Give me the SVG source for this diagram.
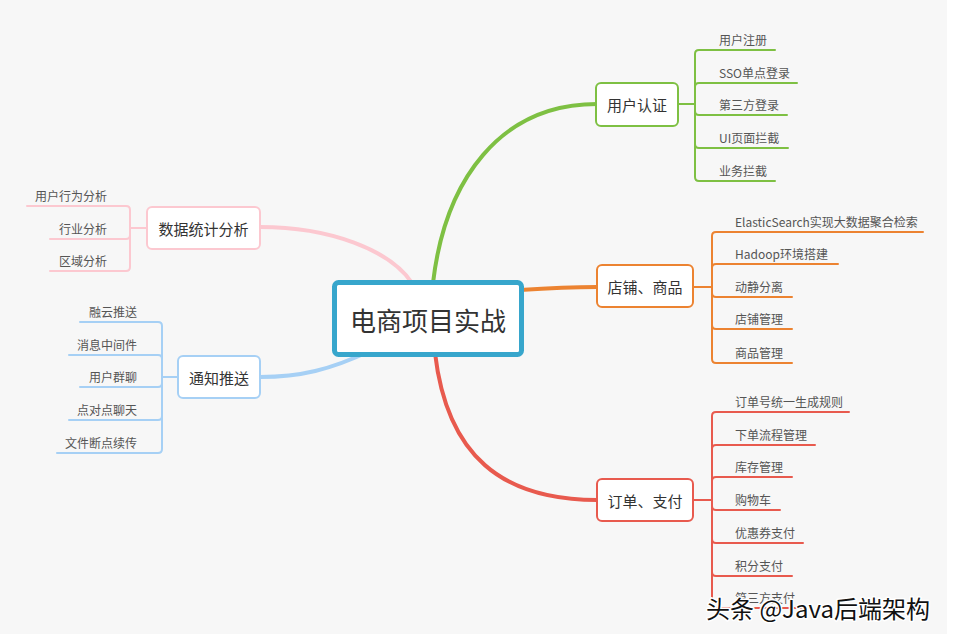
<svg xmlns="http://www.w3.org/2000/svg" width="956" height="640" viewBox="0 0 956 640">
<style>
text{font-family:"Noto Sans CJK SC","Liberation Sans",sans-serif}
.main{fill:none;stroke-width:4;stroke-linecap:round}
.sub{fill:none;stroke-width:2;stroke-linecap:round}
.node{fill:#fff;stroke-width:2}
.nt{font-size:15px;fill:#333;text-anchor:middle;dominant-baseline:central}
.ct{font-size:12px;fill:#555}
.l{text-anchor:end}
.g{stroke:#7ec043}.o{stroke:#ec8331}.r{stroke:#e85a4e}.p{stroke:#fcc8d0}.b{stroke:#a6d0f5}
</style>
<rect x="0" y="0" width="956" height="640" fill="#f7f7f7"/>
<rect x="947" y="0" width="9" height="640" fill="#fff"/>
<rect x="0" y="634" width="956" height="6" fill="#fff"/>
<g id="connectors">
<path class="main g" d="M433,283 C445,180 500,104 597,104"/>
<path class="main o" d="M520,290 C550,288 570,287 597,287"/>
<path class="main r" d="M435,353 C447,456 502,500 597,500"/>
<path class="main p" d="M260,227 C330,227 390,250 412,283"/>
<path class="main b" d="M260,377 C300,377 330,370 372,350"/>
<g class="sub g">
<path d="M678,104 H695"/>
<path d="M695,104 V54 Q695,50 699,50 H775"/>
<path d="M695,104 V87 Q695,83 699,83 H797"/>
<path d="M695,104 V111 Q695,115 699,115 H787"/>
<path d="M695,104 V144 Q695,148 699,148 H788"/>
<path d="M695,104 V177 Q695,181 699,181 H775"/>
</g>
<g class="sub o">
<path d="M693,287 H712"/>
<path d="M712,287 V236 Q712,232 716,232 H923"/>
<path d="M712,287 V268 Q712,264 716,264 H838"/>
<path d="M712,287 V293 Q712,297 716,297 H792"/>
<path d="M712,287 V325 Q712,329 716,329 H792"/>
<path d="M712,287 V359 Q712,363 716,363 H792"/>
</g>
<g class="sub r">
<path d="M693,500 H712"/>
<path d="M712,500 V416 Q712,412 716,412 H849"/>
<path d="M712,500 V449 Q712,445 716,445 H815"/>
<path d="M712,500 V481 Q712,477 716,477 H792"/>
<path d="M712,500 V506 Q712,510 716,510 H780"/>
<path d="M712,500 V539 Q712,543 716,543 H803"/>
<path d="M712,500 V572 Q712,576 716,576 H792"/>
<path d="M712,500 V604 Q712,608 716,608 H803"/>
</g>
<g class="sub p">
<path d="M147,228 H130"/>
<path d="M130,228 V210 Q130,206 126,206 H27"/>
<path d="M130,228 V235 Q130,239 126,239 H50"/>
<path d="M130,228 V267 Q130,271 126,271 H50"/>
</g>
<g class="sub b">
<path d="M178,377 H162"/>
<path d="M162,377 V326 Q162,322 158,322 H80"/>
<path d="M162,377 V359 Q162,355 158,355 H69"/>
<path d="M162,377 V383 Q162,387 158,387 H80"/>
<path d="M162,377 V416 Q162,420 158,420 H69"/>
<path d="M162,377 V449 Q162,453 158,453 H57"/>
</g>
</g>
<g id="root">
<rect x="334.5" y="282.5" width="187" height="72" rx="4" fill="#fff" stroke="#37a6cc" stroke-width="5"/>
<text x="428" y="319" font-size="26" fill="#333" text-anchor="middle" dominant-baseline="central">电商项目实战</text>
</g>
<g id="auth">
<rect class="node g" x="596" y="83" width="82" height="43" rx="5"/>
<text class="nt" x="637" y="104">用户认证</text>
<text class="ct" x="719" y="45">用户注册</text>
<text class="ct" x="719" y="78">SSO单点登录</text>
<text class="ct" x="719" y="110">第三方登录</text>
<text class="ct" x="719" y="143">UI页面拦截</text>
<text class="ct" x="719" y="176">业务拦截</text>
</g>
<g id="shop">
<rect class="node o" x="597" y="265" width="96" height="42" rx="5"/>
<text class="nt" x="645" y="286">店铺、商品</text>
<text class="ct" x="735" y="227">ElasticSearch实现大数据聚合检索</text>
<text class="ct" x="735" y="259">Hadoop环境搭建</text>
<text class="ct" x="735" y="292">动静分离</text>
<text class="ct" x="735" y="324">店铺管理</text>
<text class="ct" x="735" y="358">商品管理</text>
</g>
<g id="order">
<rect class="node r" x="597" y="479" width="96" height="42" rx="5"/>
<text class="nt" x="645" y="500">订单、支付</text>
<text class="ct" x="735" y="407">订单号统一生成规则</text>
<text class="ct" x="735" y="440">下单流程管理</text>
<text class="ct" x="735" y="472">库存管理</text>
<text class="ct" x="735" y="505">购物车</text>
<text class="ct" x="735" y="538">优惠券支付</text>
<text class="ct" x="735" y="571">积分支付</text>
<text class="ct" x="735" y="603">第三方支付</text>
</g>
<g id="stats">
<rect class="node p" x="147" y="207" width="113" height="42" rx="5"/>
<text class="nt" x="203.5" y="228">数据统计分析</text>
<text class="ct l" x="107" y="201">用户行为分析</text>
<text class="ct l" x="107" y="234">行业分析</text>
<text class="ct l" x="107" y="266">区域分析</text>
</g>
<g id="notify">
<rect class="node b" x="178" y="356" width="82" height="42" rx="5"/>
<text class="nt" x="219" y="377">通知推送</text>
<text class="ct l" x="137" y="317">融云推送</text>
<text class="ct l" x="137" y="350">消息中间件</text>
<text class="ct l" x="137" y="382">用户群聊</text>
<text class="ct l" x="137" y="415">点对点聊天</text>
<text class="ct l" x="137" y="448">文件断点续传</text>
</g>
<text x="706" y="618" font-size="24" fill="#111" stroke="#fff" stroke-width="3" paint-order="stroke" stroke-linejoin="round">头条 @Java后端架构</text>
</svg>
